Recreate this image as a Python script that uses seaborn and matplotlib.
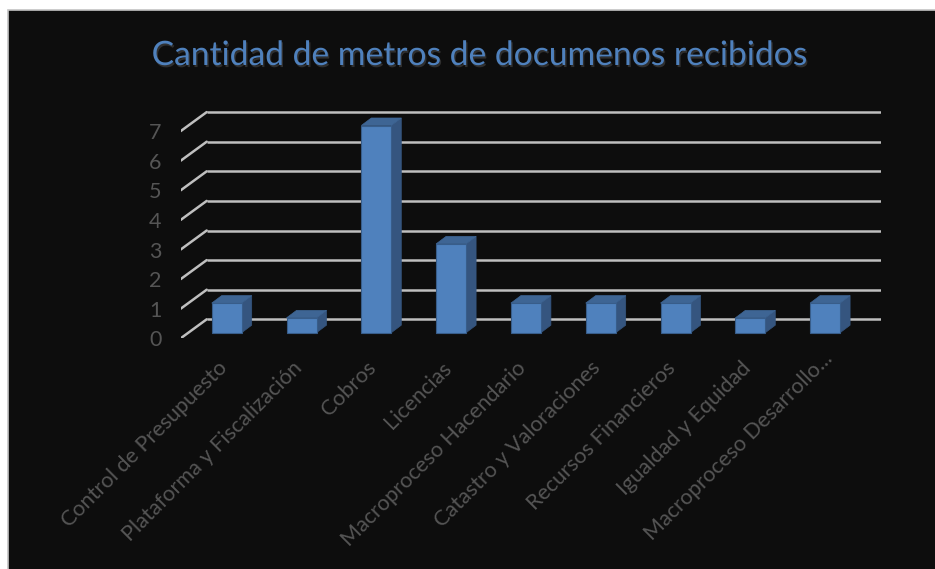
import numpy as np
import pandas as pd
import matplotlib
matplotlib.use('Agg')
import matplotlib.pyplot as plt
import matplotlib.patheffects as pe
from matplotlib.patches import Polygon, Rectangle
from matplotlib.transforms import ScaledTranslation
import seaborn as sns

categorias = ['Control de Presupuesto', 'Plataforma y Fiscalización', 'Cobros', 'Licencias',
              'Macroproceso Hacendario', 'Catastro y Valoraciones', 'Recursos Financieros',
              'Igualdad y Equidad', 'Macroproceso Desarrollo...']
metros = [1, 0.5, 7, 3, 1, 1, 1, 0.5, 1]
niveles = [0, 1, 2, 3, 4, 5, 6, 7]
titulo = 'Cantidad de metros de documenos recibidos'

W, H = 935, 569
# pixel scale of the chart
px_x = 74.8
px_y = 29.6
x0_px = 226.7   # centre of first category
y0_px = 332.7   # foot of the bars

FONDO = '#0d0d0d'
TEXTO = '#555555'
AZUL = '#4f81bd'
LADO = '#35557f'
TAPA = '#3e6594'
BORDE = '#385d8a'
REJILLA = '#bfbfbf'

df = pd.DataFrame({'categoria': categorias, 'metros': metros})

sns.set_theme(style='white')
plt.rcParams['font.family'] = ['Lato', 'DejaVu Sans']

fig = plt.figure(figsize=(W / 100, H / 100), dpi=100, facecolor='white')
fig.patches.append(Rectangle((7.5 / W, -0.01), 1, (H - 9.5) / H + 0.01, transform=fig.transFigure,
                             facecolor=FONDO, edgecolor='#c4c4c4', linewidth=1.2, zorder=-1))

# axes run from the front-left corner of the floor to the right end of the grid
left_px, right_px, top_px, bottom_px = 180.7, 881.0, 100.0, 338.3
ax = fig.add_axes([left_px / W, 1 - bottom_px / H, (right_px - left_px) / W, (bottom_px - top_px) / H])
ax.patch.set_alpha(0)

sns.barplot(data=df, x='categoria', y='metros', color=AZUL, saturation=1, width=30 / px_x,
            edgecolor=BORDE, linewidth=0.8, ax=ax, zorder=3)

xlim = ((left_px - x0_px) / px_x, (right_px - x0_px) / px_x)
ylim = ((y0_px - bottom_px) / px_y, (y0_px - top_px) / px_y)
ax.set_xlim(*xlim)
ax.set_ylim(*ylim)

# depth offsets in data units
atras_x = (206.7 - 180.7) / px_x
atras_y = (338.3 - 319.3) / px_y
prof_x = 10 / px_x
prof_y = 7.5 / px_y

# walls: diagonal on the left, horizontal line at the back
for n in niveles:
    y_frente = n + ylim[0]
    ax.plot([xlim[0], xlim[0] + atras_x], [y_frente, y_frente + atras_y], color=REJILLA, lw=1.8,
            zorder=1, solid_capstyle='round')
    ax.plot([xlim[0] + atras_x, xlim[1]], [y_frente + atras_y] * 2, color=REJILLA, lw=1.8,
            zorder=1, solid_capstyle='butt')

# depth faces of the bars
ancho = 30 / px_x
for i, v in enumerate(metros):
    xl, xr = i - ancho / 2, i + ancho / 2
    ax.add_patch(Polygon([(xr, 0), (xr + prof_x, prof_y), (xr + prof_x, v + prof_y), (xr, v)],
                         facecolor=LADO, edgecolor=LADO, lw=0.5, zorder=2.5))
    ax.add_patch(Polygon([(xl, v), (xl + prof_x, v + prof_y), (xr + prof_x, v + prof_y), (xr, v)],
                         facecolor=TAPA, edgecolor=TAPA, lw=0.5, zorder=2.5))

ax.set_xlabel('')
ax.set_ylabel('')
sns.despine(ax=ax, left=True, bottom=True)
ax.set_yticks([n + ylim[0] for n in niveles])
ax.set_yticklabels([str(n) for n in niveles], fontsize=15.5, color=TEXTO)
ax.set_xticks(range(len(categorias)))
ax.set_xticklabels(categorias, rotation=45, ha='right', rotation_mode='anchor', fontsize=15.6, color=TEXTO)
ax.tick_params(axis='y', length=0, pad=14)
ax.tick_params(axis='x', length=0, pad=14)
desplaza = ScaledTranslation(-10 / 100, 0, fig.dpi_scale_trans)
for lab in ax.get_xticklabels():
    lab.set_transform(lab.get_transform() + desplaza)
# the truncated label sits a little further up and right
ultima = ax.get_xticklabels()[-1]
ultima.set_transform(ultima.get_transform() + ScaledTranslation(7 / 100, 9 / 100, fig.dpi_scale_trans))

fig.text(479.5 / W, 1 - 55 / H, titulo, ha='center', va='center', fontsize=24.2, color=AZUL,
         path_effects=[pe.withSimplePatchShadow(offset=(1, -1.5), shadow_rgbFace='#7f7f7f', alpha=0.3)])

fig.savefig('out.png', dpi=100, facecolor=fig.get_facecolor())
